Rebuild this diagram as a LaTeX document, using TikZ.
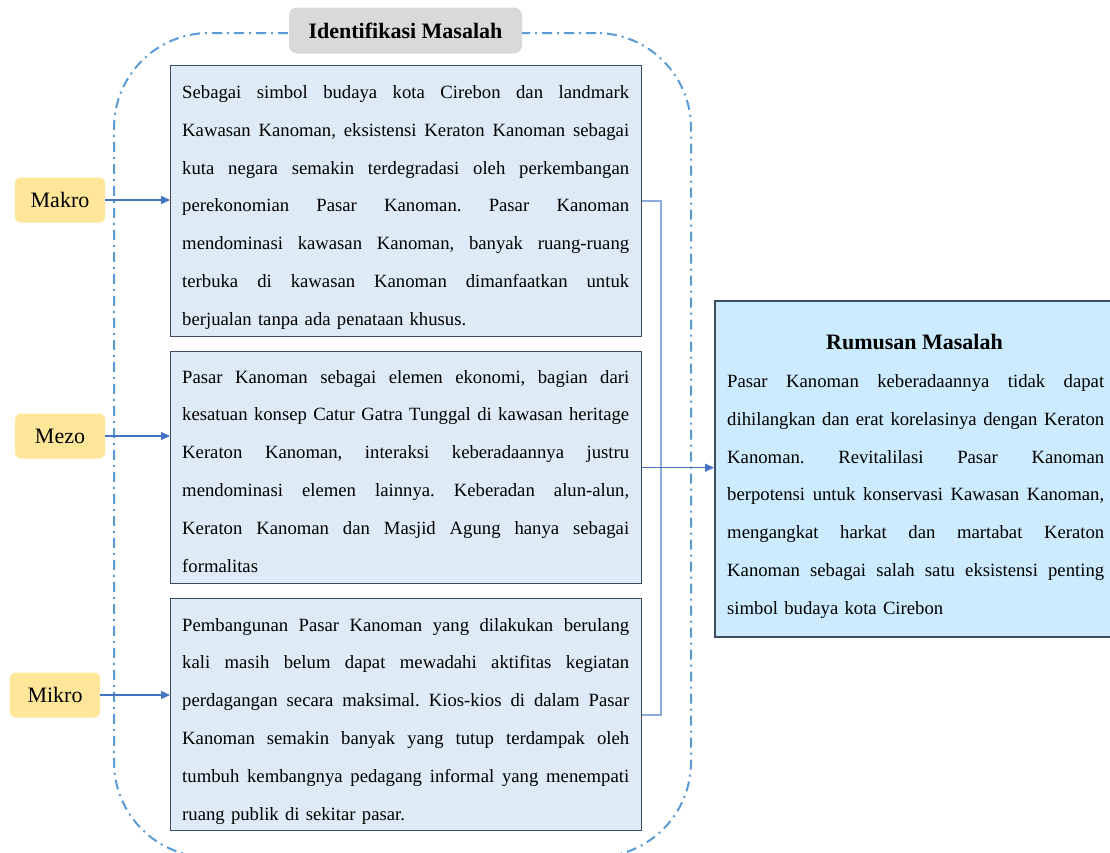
\documentclass[tikz,border=0pt]{standalone}
\usepackage{fontspec}
\setmainfont{Liberation Serif}
\usetikzlibrary{arrows.meta}
\definecolor{dashblue}{HTML}{5B9BD5}
\definecolor{arrowblue}{HTML}{4472C4}
\definecolor{brkblue}{HTML}{8FAADC}
\definecolor{boxfill}{HTML}{DEEBF7}
\definecolor{boxline}{HTML}{3E4C63}
\definecolor{rumfill}{HTML}{CCEBFF}
\definecolor{labfill}{HTML}{FFE699}
\definecolor{grayfill}{HTML}{D9D9D9}
\newcommand{\jl}[2]{\hbox to #1{\frenchspacing\spaceskip=0.25em plus 1fil\relax\xspaceskip=0.25em plus 1fil\relax #2}}
\tikzset{
  frame/.style={draw=dashblue, line width=2pt, rounded corners=95pt,
    dash pattern=on 10pt off 5pt on 2pt off 5pt, inner sep=0pt, anchor=north west},
  mbox/.style={draw=boxline, line width=1.4pt, fill=boxfill, inner sep=0pt, anchor=north west},
  rbox/.style={draw=boxline, line width=1.6pt, fill=rumfill, inner sep=0pt, anchor=north west},
  txt/.style={inner sep=0pt, anchor=base west, font=\fontsize{18.7}{37.8}\selectfont\frenchspacing},
  lab/.style={fill=labfill, rounded corners=6pt, minimum width=90pt, minimum height=45pt,
    inner sep=0pt, font=\fontsize{22}{26}\selectfont},
  glab/.style={fill=grayfill, rounded corners=8pt, minimum width=233pt, minimum height=46pt,
    inner sep=0pt, font=\fontsize{22}{26}\selectfont\bfseries},
  arr/.style={draw=arrowblue, line width=1.3pt, -{Triangle[length=9pt,width=8pt]}},
  brk/.style={draw=brkblue, line width=1.9pt},
}
\begin{document}
\begin{tikzpicture}[x=1pt,y=-1pt]
\useasboundingbox (0,0) rectangle (1110,852);
\clip (0,0) rectangle (1110,852);
\fill[white] (0,0) rectangle (1110,852);
\node[frame, minimum width=577pt, minimum height=824pt] (frm) at (113,32) {};
\node[glab] (idm) at (405.5,30.5) {Identifikasi Masalah};

\node[mbox, minimum width=471pt, minimum height=271pt] (b1) at (170,65) {};
\node[mbox, minimum width=471pt, minimum height=232pt] (b2) at (170,351) {};
\node[mbox, minimum width=471pt, minimum height=232pt] (b3) at (170,598) {};
\node[rbox, minimum width=420pt, minimum height=336pt] (rum) at (714,300) {};

\node[txt, text width=447pt] (t1) at (182,98.5) {%
\jl{447pt}{Sebagai simbol budaya kota Cirebon dan landmark}
\jl{447pt}{Kawasan Kanoman, eksistensi Keraton Kanoman sebagai}
\jl{447pt}{kuta negara semakin terdegradasi oleh perkembangan}
\jl{447pt}{perekonomian Pasar Kanoman. Pasar Kanoman}
\jl{447pt}{mendominasi kawasan Kanoman, banyak ruang-ruang}
\jl{447pt}{terbuka di kawasan Kanoman dimanfaatkan untuk}
\hbox{berjualan tanpa ada penataan khusus.}};

\node[txt, text width=447pt] (t2) at (182,383) {%
\jl{447pt}{Pasar Kanoman sebagai elemen ekonomi, bagian dari}
\jl{447pt}{kesatuan konsep Catur Gatra Tunggal di kawasan heritage}
\jl{447pt}{Keraton Kanoman, interaksi keberadaannya justru}
\jl{447pt}{mendominasi elemen lainnya. Keberadan alun-alun,}
\jl{447pt}{Keraton Kanoman dan Masjid Agung hanya sebagai}
\hbox{formalitas}};

\node[txt, text width=447pt] (t3) at (182,631) {%
\jl{447pt}{Pembangunan Pasar Kanoman yang dilakukan berulang}
\jl{447pt}{kali masih belum dapat mewadahi aktifitas kegiatan}
\jl{447pt}{perdagangan secara maksimal. Kios-kios di dalam Pasar}
\jl{447pt}{Kanoman semakin banyak yang tutup terdampak oleh}
\jl{447pt}{tumbuh kembangnya pedagang informal yang menempati}
\hbox{ruang publik di sekitar pasar.}};

\node[inner sep=0pt, anchor=base, font=\fontsize{22}{26}\selectfont\bfseries] (rt) at (914.5,349) {Rumusan Masalah};
\node[txt, text width=377pt] (rtx) at (727,387.5) {%
\jl{377pt}{Pasar Kanoman keberadaannya tidak dapat}
\jl{377pt}{dihilangkan dan erat korelasinya dengan Keraton}
\jl{377pt}{Kanoman. Revitalilasi Pasar Kanoman}
\jl{377pt}{berpotensi untuk konservasi Kawasan Kanoman,}
\jl{377pt}{mengangkat harkat dan martabat Keraton}
\jl{377pt}{Kanoman sebagai salah satu eksistensi penting}
\hbox{simbol budaya kota Cirebon}};

\node[lab] (makro) at (60,200) {Makro};
\node[lab] (mezo) at (60,436) {Mezo};
\node[lab] (mikro) at (55,695) {Mikro};

\draw[arr] (makro.east) -- (makro.east -| b1.west);
\draw[arr] (mezo.east) -- (mezo.east -| b2.west);
\draw[arr] (mikro.east) -- (mikro.east -| b3.west);
\draw[brk] (b1.east) -- ++(19,0) |- (b3.east);
\draw[arr] (b2.east) -- (b2.east -| rum.west);
\end{tikzpicture}
\end{document}
